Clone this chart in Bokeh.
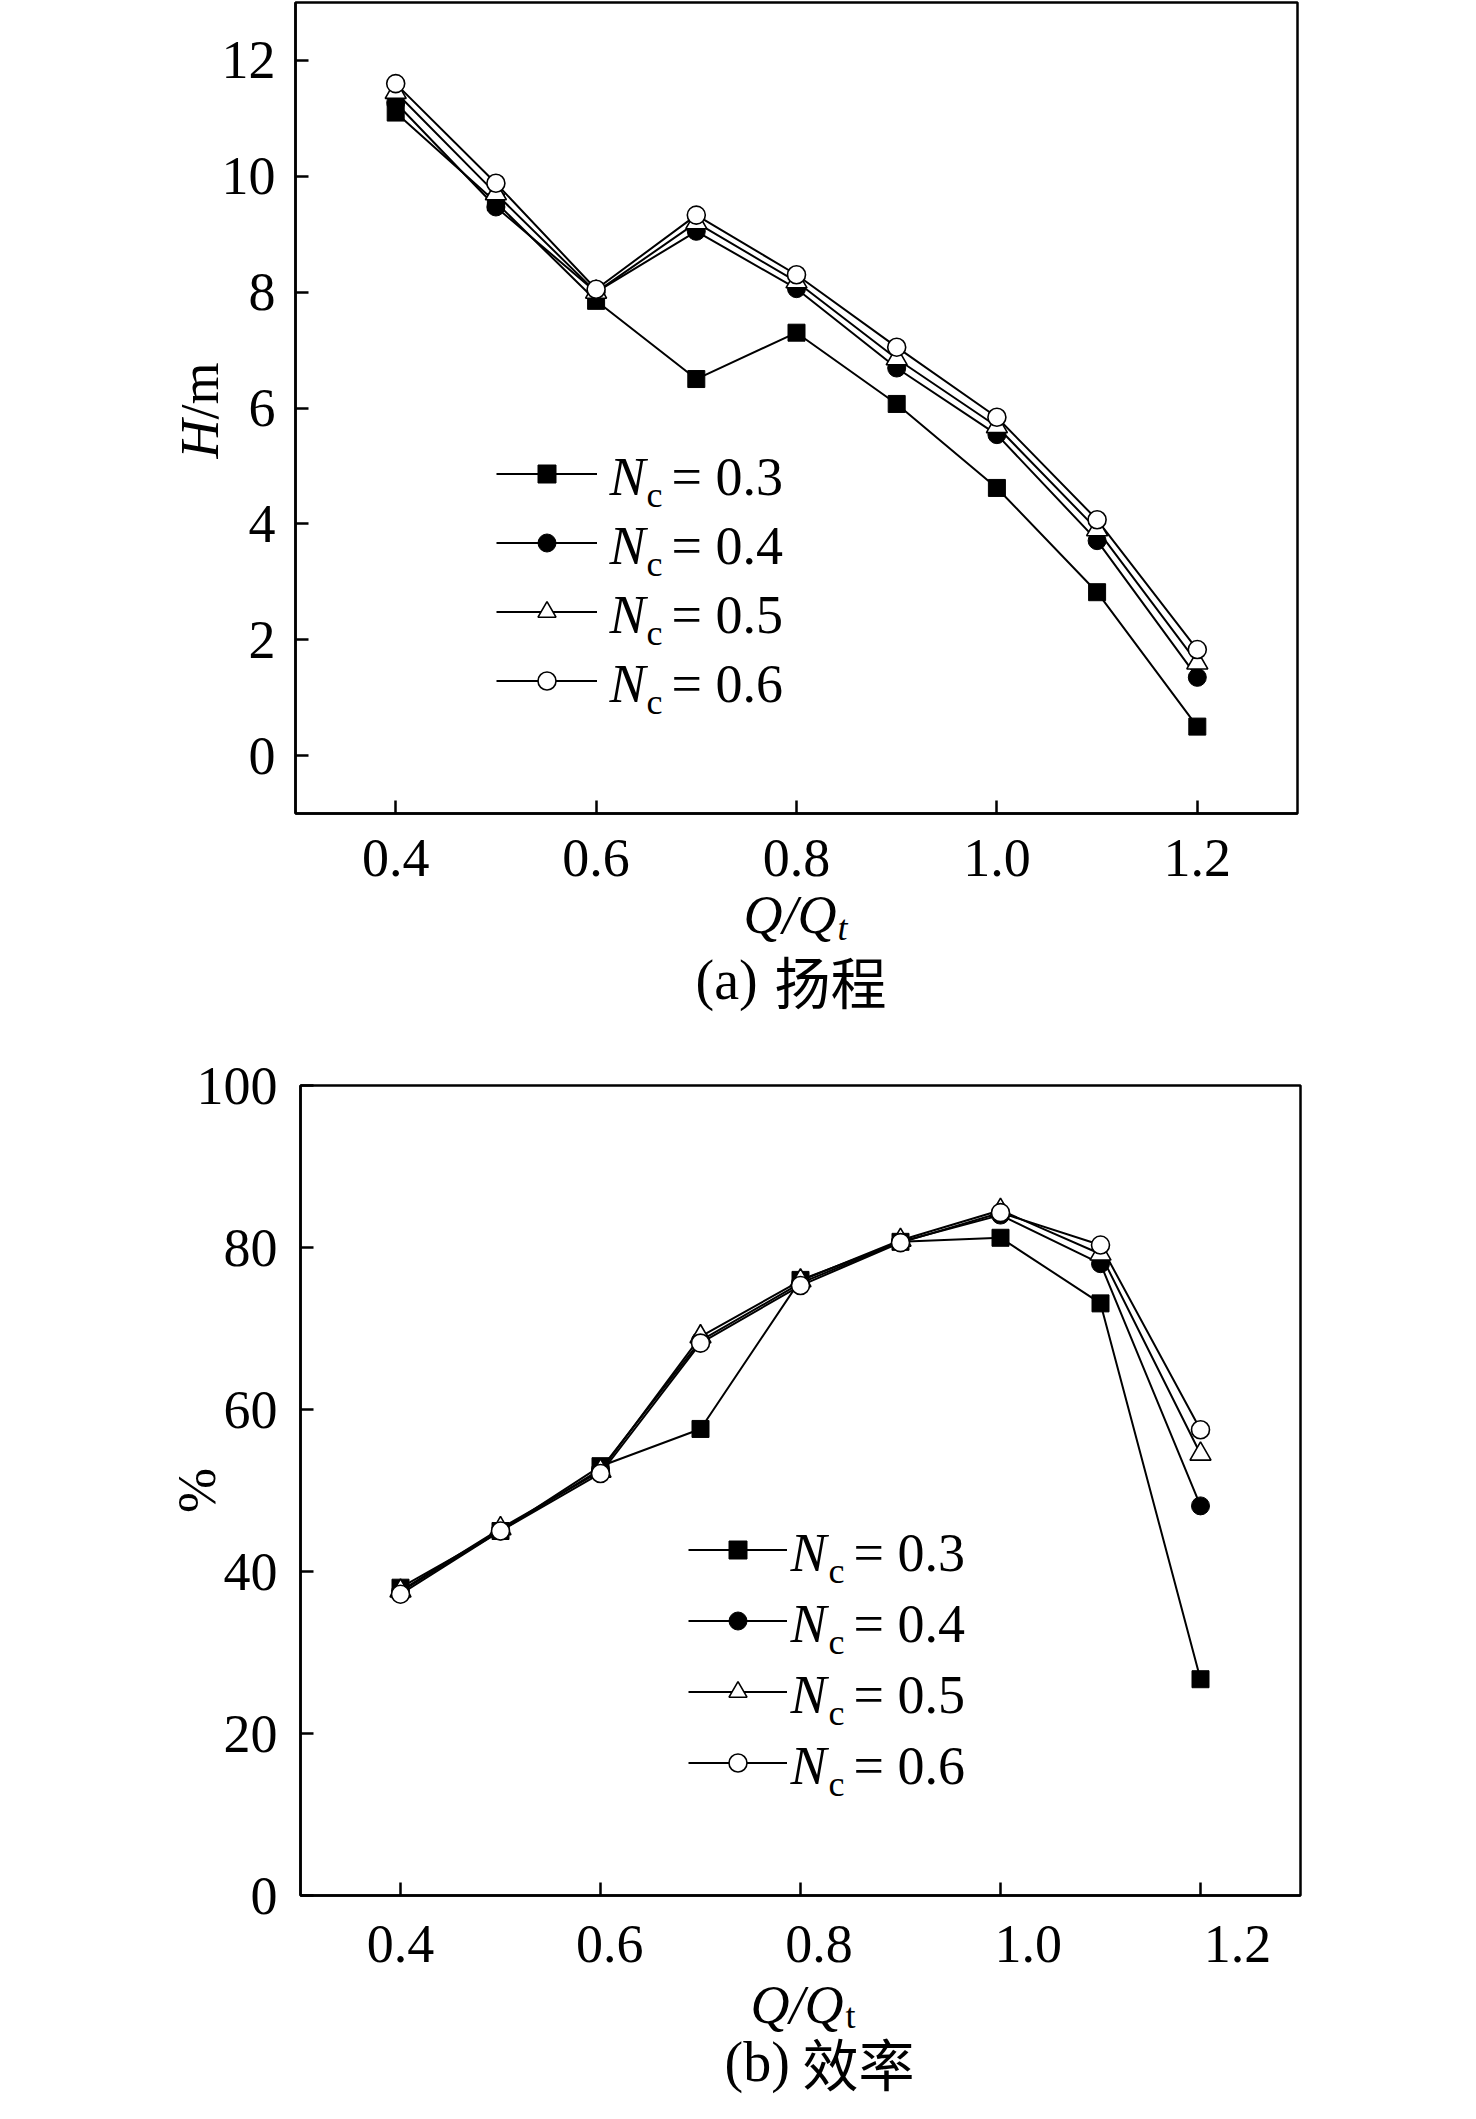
import math
from bokeh.plotting import figure
from bokeh.models import Range1d, LinearAxis, FixedTicker, Legend, LegendItem, Label
from bokeh.layouts import column, row
from bokeh.embed import file_html
from bokeh.resources import INLINE

# ---------------- data ----------------
q = [0.4, 0.5, 0.6, 0.7, 0.8, 0.9, 1.0, 1.1, 1.2]
nc_values = ["0.3", "0.4", "0.5", "0.6"]

head_nc03 = [11.10, 9.55, 7.85, 6.50, 7.30, 6.07, 4.62, 2.82, 0.50]
head_nc04 = [11.27, 9.47, 8.00, 9.05, 8.06, 6.69, 5.54, 3.71, 1.35]
head_nc05 = [11.45, 9.70, 8.00, 9.20, 8.18, 6.85, 5.68, 3.90, 1.60]
head_nc06 = [11.60, 9.88, 8.05, 9.33, 8.30, 7.05, 5.84, 4.07, 1.83]

eff_nc03 = [38.0, 45.0, 53.0, 57.6, 76.0, 80.7, 81.2, 73.1, 26.7]
eff_nc04 = [37.5, 45.0, 52.6, 68.5, 75.6, 80.7, 84.0, 78.0, 48.1]
eff_nc05 = [37.6, 45.3, 52.4, 69.0, 75.9, 80.9, 84.6, 79.2, 54.5]
eff_nc06 = [37.2, 45.0, 52.1, 68.2, 75.3, 80.6, 84.3, 80.3, 57.5]

xticks = [0.4, 0.6, 0.8, 1.0, 1.2]
xtick_labels = ["0.4", "0.6", "0.8", "1.0", "1.2"]
head_yticks = [0, 2, 4, 6, 8, 10, 12]
head_ytick_labels = ["0", "2", "4", "6", "8", "10", "12"]
eff_yticks = [0, 20, 40, 60, 80, 100]
eff_ytick_labels = ["0", "20", "40", "60", "80", "100"]

caption_a = ("(a)", "扬程")
caption_b = ("(b)", "效率")

# ---------------- styles ----------------
SERIF = "Liberation Serif"
CJK = "Noto Sans CJK SC"
FS = 54
SUB = 36
CAP = 56
LW = 2.5
BASE_K = 0.26  # baseline correction (fraction of font size)

marker_styles = [
    dict(marker="square", size=17, fill_color="black", line_color="black", line_width=1),
    dict(marker="circle", size=18, fill_color="black", line_color="black", line_width=1),
    dict(marker="triangle", size=21, fill_color="white", line_color="black", line_width=1.6),
    dict(marker="circle", size=18, fill_color="white", line_color="black", line_width=1.6),
]


def style_axis(ax, ticks, labels, standoff):
    ax.ticker = FixedTicker(ticks=ticks)
    ax.major_label_overrides = {t: l for t, l in zip(ticks, labels)}
    ax.major_tick_in = 13
    ax.major_tick_out = 0
    ax.minor_tick_line_color = None
    ax.major_tick_line_width = LW
    ax.major_tick_line_color = "black"
    ax.axis_line_width = LW
    ax.axis_line_color = "black"
    ax.major_label_text_font = SERIF
    ax.major_label_text_font_size = f"{FS}px"
    ax.major_label_text_color = "black"
    ax.major_label_standoff = standoff


def make_fig(fw, fh, left, right, top, bottom, xr, yr, xloc):
    p = figure(frame_width=fw, frame_height=fh,
               min_border_left=left, min_border_right=right,
               min_border_top=top, min_border_bottom=bottom,
               x_range=Range1d(*xr), y_range=Range1d(*yr),
               x_axis_location=xloc, output_backend="svg",
               toolbar_location=None, background_fill_color="white",
               border_fill_color="white")
    p.grid.visible = False
    p.outline_line_color = "black"
    p.outline_line_width = LW
    p.outline_line_alpha = 1.0
    return p


def text_panel(fw, h, left=0, right=0, overlap_top=0, overlap_right=0):
    f = figure(frame_width=fw, frame_height=h, min_border=0,
               min_border_left=left, min_border_right=right,
               x_range=Range1d(0, fw), y_range=Range1d(0, h),
               x_axis_location=None, y_axis_location=None,
               output_backend="svg", toolbar_location=None,
               background_fill_color=None, border_fill_color=None,
               margin=(-overlap_top, -overlap_right, 0, 0))
    f.grid.visible = False
    f.outline_line_color = None
    return f


def add_series(p, series):
    lines, marks = [], []
    for vals in series:
        lines.append(p.line(q, vals, line_color="black", line_width=2))
    for vals, st in zip(series, marker_styles):
        marks.append(p.scatter(q, vals, **st))
    return lines, marks


def add_legend(p, lines, marks, vx, vy, gw, gh, sp):
    items = [LegendItem(label=" ", renderers=[l, m]) for l, m in zip(lines, marks)]
    leg = Legend(items=items, location=(vx, vy), glyph_width=gw, glyph_height=gh,
                 spacing=sp, padding=0, margin=0, label_standoff=0,
                 label_text_font_size="1px", label_width=1, label_height=1,
                 border_line_color=None, background_fill_alpha=0)
    p.add_layout(leg)
    top_from_bottom = vy + 4 * gh + 3 * sp
    return [top_from_bottom - gh / 2 - i * (gh + sp) for i in range(4)]


def lab(p, x0, y0, dx, dy, text, font=SERIF, size=FS, style="normal",
        align="left", baseline="alphabetic", angle=0.0):
    if baseline == "alphabetic":
        dy = dy + round(BASE_K * size)
    p.add_layout(Label(x=x0, y=y0, x_offset=dx, y_offset=dy, text=text,
                       text_font=font, text_font_size=f"{size}px", text_font_style=style,
                       text_align=align, text_baseline=baseline, angle=angle,
                       text_color="black"))


def legend_texts(p, x0, y0, rows, xn, xc, xe):
    for r, v in zip(rows, nc_values):
        lab(p, x0, y0, xn, r - 17, "N", style="italic")
        lab(p, x0, y0, xc, r - 30, "c", size=SUB)
        lab(p, x0, y0, xe, r - 17, "= " + v)


# ---------------- (a) head ----------------
p1 = make_fig(1002, 811, 74, 164, 2, 90, (0.3, 1.3), (-1, 13), "below")
style_axis(p1.xaxis[0], xticks, xtick_labels, 26)
style_axis(p1.yaxis[0], head_yticks, head_ytick_labels, 20)
l1, m1 = add_series(p1, [head_nc03, head_nc04, head_nc05, head_nc06])
rows1 = add_legend(p1, l1, m1, 201, 110.5, 101, 45, 24)
legend_texts(p1, 0.3, -1, rows1, 314, 351, 376)

yl1 = text_panel(240, 903, overlap_right=22)
lab(yl1, 0, 0, 199, 486, "H", style="italic", align="right", baseline="middle", angle=math.pi / 2)
lab(yl1, 0, 0, 199, 486, "/m", align="left", baseline="middle", angle=math.pi / 2)

OV = 40
xl1 = text_panel(1000, 189, left=300, right=158, overlap_top=OV)
lab(xl1, 0, 0, 443, 124, "Q/Q", style="italic")
lab(xl1, 0, 0, 537, 116, "t", size=SUB, style="italic")
lab(xl1, 0, 0, 395, 58, caption_a[0], size=CAP)
lab(xl1, 0, 0, 474, 58, caption_a[1], font=CJK, size=CAP)

# ---------------- (b) efficiency ----------------
p2 = make_fig(1000, 810, 300, 158, 33, 105, (0.3, 1.3), (0, 100), None)
p2.extra_x_ranges = {"lbl": Range1d(0.3044, 1.2602)}
tick_axis = LinearAxis()
style_axis(tick_axis, xticks, ["" for _ in xticks], 0)
tick_axis.major_label_text_font_size = "0px"
lbl_axis = LinearAxis(x_range_name="lbl")
style_axis(lbl_axis, xticks, xtick_labels, 30)
lbl_axis.axis_line_color = None
lbl_axis.major_tick_line_color = None
p2.add_layout(tick_axis, "below")
p2.add_layout(lbl_axis, "below")
style_axis(p2.yaxis[0], eff_yticks, eff_ytick_labels, 23)
p2.yaxis[0].axis_label = "%"
p2.yaxis[0].axis_label_text_font = SERIF
p2.yaxis[0].axis_label_text_font_size = f"{FS}px"
p2.yaxis[0].axis_label_text_font_style = "normal"
p2.yaxis[0].axis_label_text_color = "black"
p2.yaxis[0].axis_label_standoff = -33
l2, m2 = add_series(p2, [eff_nc03, eff_nc04, eff_nc05, eff_nc06])
rows2 = add_legend(p2, l2, m2, 388, 110.4, 99, 45, 26)
legend_texts(p2, 0.3, 0, rows2, 490, 528, 553)

xl2 = text_panel(1000, 142, left=300, right=158, overlap_top=OV)
lab(xl2, 0, 0, 450, 84, "Q/Q", style="italic")
lab(xl2, 0, 0, 545, 78, "t", size=SUB)
lab(xl2, 0, 0, 424, 26, caption_b[0], size=CAP)
lab(xl2, 0, 0, 502, 26, caption_b[1], font=CJK, size=CAP)

page = column(row(yl1, p1), xl1, p2, xl2)
open("out.html", "w").write(file_html(page, INLINE))
